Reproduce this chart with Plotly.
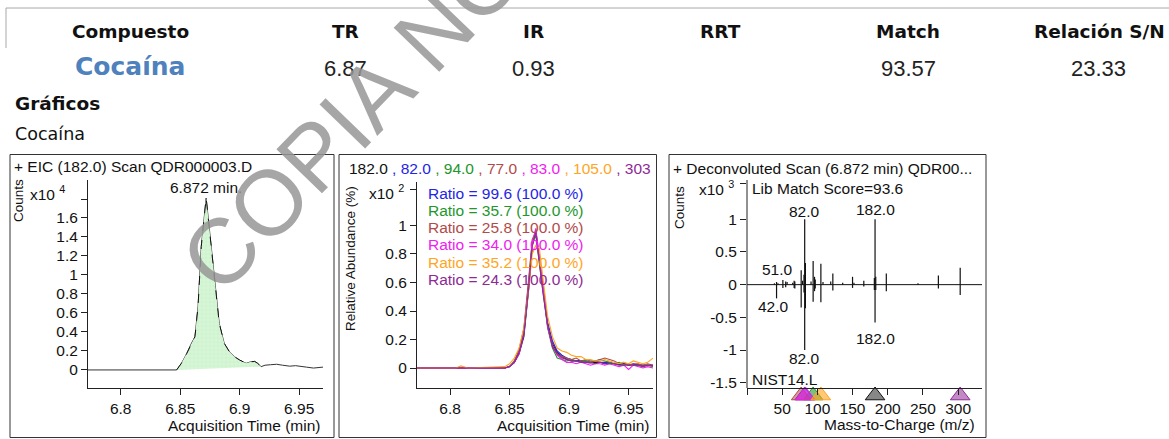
import plotly.graph_objects as go

W, H = 1169, 439
ARIAL = "Liberation Sans, Arial, sans-serif"
SANS = "DejaVu Sans, Verdana, sans-serif"

# ---------------- data ----------------
header_labels = ["Compuesto", "TR", "IR", "RRT", "Match", "Relación S/N"]
compound_name = "Cocaína"
header_values = ["6.87", "0.93", "", "93.57", "23.33"]  # TR, IR, RRT, Match, S/N
section_title = "Gráficos"
section_sub = "Cocaína"

# Panel 1 : EIC 182 (counts x10^4)
eic_title = "+ EIC (182.0) Scan QDR000003.D"
eic_peak_label = "6.872 min."
eic_time = [6.7725, 6.800, 6.830, 6.847, 6.851, 6.8554, 6.859, 6.8624, 6.865, 6.8677,
            6.8718, 6.876, 6.880, 6.8828, 6.887, 6.8914, 6.8955, 6.8998, 6.9054, 6.9090,
            6.9125, 6.9150, 6.918, 6.9213, 6.926, 6.931, 6.936, 6.942, 6.947, 6.951,
            6.956, 6.962, 6.966, 6.970]
eic_counts = [0, 0, 0, 0, 0.07, 0.17, 0.27, 0.35, 0.67, 1.30,
              1.81, 1.30, 0.84, 0.49, 0.28, 0.19, 0.14, 0.105, 0.07, 0.085,
              0.09, 0.07, 0.035, 0.05, 0.055, 0.06, 0.05, 0.04, 0.045, 0.035,
              0.03, 0.02, 0.025, 0.03]
eic_integration = [6.847, 6.918]
eic_xticks = [6.8, 6.85, 6.9, 6.95]
eic_yticks = [0, 0.2, 0.4, 0.6, 0.8, 1, 1.2, 1.4, 1.6, 1.8]
eic_yticklabels = ["0", "0.2", "0.4", "0.6", "0.8", "1", "1.2", "1.4", "1.6", ""]

# Panel 2 : qualifier ions (relative abundance x10^2 %)
qual_ions = ["182.0", "82.0", "94.0", "77.0", "83.0", "105.0", "303"]
qual_time = [6.7722, 6.805, 6.809, 6.812, 6.815, 6.846, 6.850, 6.854, 6.858, 6.862,
             6.866, 6.869, 6.872, 6.875, 6.878, 6.882, 6.886, 6.890, 6.894, 6.898,
             6.902, 6.906, 6.910, 6.914, 6.918, 6.922, 6.926, 6.930, 6.934, 6.938,
             6.942, 6.946, 6.950, 6.954, 6.958, 6.962, 6.966, 6.9705]
qual_182 = [0, 0, 0, 0, 0, 0, 0.01, 0.04, 0.10, 0.22, 0.55, 0.85, 0.97, 0.78, 0.56, 0.30, 0.17, 0.11, 0.08, 0.06,
            0.05, 0.05, 0.05, 0.04, 0.035, 0.04, 0.04, 0.03, 0.035, 0.03, 0.025, 0.03, 0.02, 0.025, 0.02, 0.02, 0.02, 0.015]
qual_82 = [0, 0, 0, 0, 0, 0, 0.01, 0.04, 0.11, 0.25, 0.58, 0.87, 0.95, 0.75, 0.55, 0.32, 0.19, 0.12, 0.09, 0.07,
           0.06, 0.05, 0.05, 0.05, 0.04, 0.05, 0.04, 0.04, 0.04, 0.03, 0.03, 0.03, 0.02, 0.03, 0.02, 0.02, 0.02, 0.02]
qual_94 = [0, 0, 0, 0, 0, 0, 0.01, 0.05, 0.12, 0.26, 0.60, 0.88, 0.93, 0.74, 0.52, 0.28, 0.14, 0.07, 0.06, 0.05,
           0.06, 0.05, 0.04, 0.05, 0.04, 0.05, 0.06, 0.05, 0.04, 0.03, 0.04, 0.02, 0.03, 0.02, 0.02, 0.01, 0.02, 0.01]
qual_77 = [0, 0, 0, 0, 0, 0, 0.01, 0.05, 0.13, 0.28, 0.62, 0.90, 0.96, 0.76, 0.52, 0.29, 0.16, 0.10, 0.08, 0.07,
           0.06, 0.07, 0.05, 0.06, 0.05, 0.05, 0.06, 0.07, 0.06, 0.05, 0.03, 0.04, 0.02, 0.03, 0.03, 0.02, 0.03, 0.02]
qual_83 = [0, 0, 0, 0, 0, 0, 0.01, 0.04, 0.10, 0.24, 0.57, 0.86, 0.98, 0.77, 0.55, 0.29, 0.15, 0.09, 0.06, 0.04,
           0.04, 0.03, 0.04, 0.03, 0.02, 0.03, 0.03, 0.02, 0.03, 0.02, 0.01, 0.02, -0.01, 0.02, 0.01, 0.0, 0.01, 0.0]
qual_105 = [0, 0, 0.015, 0.01, 0, 0.01, 0.03, 0.07, 0.14, 0.28, 0.55, 0.80, 0.86, 0.84, 0.62, 0.36, 0.22, 0.14, 0.12, 0.11,
            0.09, 0.08, 0.08, 0.06, 0.06, 0.05, 0.05, 0.06, 0.05, 0.04, 0.03, 0.04, 0.03, 0.05, 0.04, 0.03, 0.04, 0.07]
qual_303 = [0, 0, 0, 0, 0, 0, 0.01, 0.04, 0.11, 0.24, 0.56, 0.86, 0.95, 0.74, 0.53, 0.30, 0.15, 0.10, 0.07, 0.06,
            0.05, 0.05, 0.04, 0.04, 0.04, 0.03, 0.04, 0.03, 0.03, 0.03, 0.02, 0.02, 0.02, 0.02, 0.02, 0.01, 0.02, 0.02]
ratio_values = [99.6, 35.7, 25.8, 34.0, 35.2, 24.3]
ratio_expected = [100.0, 100.0, 100.0, 100.0, 100.0, 100.0]
qual_yticks = [0, 0.2, 0.4, 0.6, 0.8, 1, 1.25]
qual_yticklabels = ["0", "0.2", "0.4", "0.6", "0.8", "1", ""]

# Panel 3 : deconvoluted spectrum (counts x10^3) vs library (mirrored)
spec_title = "+ Deconvoluted Scan (6.872 min) QDR00..."
lib_score = "Lib Match Score=93.6"
lib_name = "NIST14.L"
spec_mz = [39, 42, 44, 51, 55, 57, 65, 67, 68, 77, 79, 81, 82, 83, 91, 94, 96, 97, 105, 108,
           119, 122, 136, 150, 152, 166, 181, 182, 183, 198, 243, 272, 303]
spec_int = [0.02, 0.04, 0.02, 0.07, 0.05, 0.04, 0.03, 0.06, 0.05, 0.22, 0.06, 0.15, 1.00, 0.33, 0.05, 0.36, 0.12, 0.08, 0.32, 0.04,
            0.05, 0.17, 0.03, 0.12, 0.03, 0.06, 0.10, 1.00, 0.12, 0.17, 0.02, 0.14, 0.26]
lib_mz = [42, 51, 55, 67, 68, 77, 81, 82, 83, 94, 96, 97, 105, 122, 150, 166, 181, 182, 183, 198, 272, 303]
lib_int = [-0.21, -0.05, -0.04, -0.05, -0.06, -0.35, -0.12, -1.00, -0.36, -0.26, -0.10, -0.06, -0.27, -0.09, -0.05,
           -0.03, -0.08, -0.58, -0.08, -0.10, -0.06, -0.16]
marker_mz = [182, 82, 94, 77, 83, 105, 303]
spec_xticks = [0, 50, 100, 150, 200, 250, 300]
spec_xticklabels = ["", "50", "100", "150", "200", "250", "300"]
spec_yticks = [-1.5, -1, -0.5, 0, 0.5, 1, 1.55]
spec_yticklabels = ["-1.5", "-1", "-0.5", "0", "0.5", "1", ""]

# ---------------- styles ----------------
ion_colors = ["#111111", "#2424e6", "#23962b", "#b24a4a", "#f020f0", "#ffa51f", "#8e2a95"]
marker_fill = ["rgba(70,70,70,0.65)", "rgba(36,36,230,0.5)", "rgba(35,150,43,0.6)", "rgba(178,74,74,0.55)",
               "rgba(240,32,240,0.6)", "rgba(255,165,31,0.6)", "rgba(142,42,149,0.55)"]


def px(x):
    return x / W


def py(y):
    return 1 - y / H


def A(x, y, text, size=15.5, color="#111", xanchor="center", yanchor="middle", family=ARIAL, angle=0):
    return dict(x=px(x), y=py(y), xref="paper", yref="paper", text=text, showarrow=False,
                xanchor=xanchor, yanchor=yanchor, textangle=angle,
                font=dict(family=family, size=size, color=color))


fig = go.Figure()

# ---- panel 1 ----
fill_idx = [i for i, t in enumerate(eic_time) if eic_integration[0] <= t <= eic_integration[1]]
fig.add_trace(go.Scatter(x=eic_time, y=eic_counts, mode="lines", line=dict(color="#333", width=1),
                         xaxis="x", yaxis="y", hoverinfo="skip", showlegend=False))
fig.add_trace(go.Scatter(x=[eic_time[i] for i in fill_idx], y=[eic_counts[i] for i in fill_idx],
                         mode="lines", fill="toself", fillcolor="rgba(200,240,200,1)",
                         fillpattern=dict(shape="+", fgcolor="rgba(150,215,150,0.8)",
                                          bgcolor="rgb(214,246,214)", size=4, solidity=0.15),
                         line=dict(color="#111", width=1, dash="dash"),
                         xaxis="x", yaxis="y", hoverinfo="skip", showlegend=False))

# ---- panel 2 ----
qual_series = [qual_182, qual_82, qual_94, qual_77, qual_83, qual_105, qual_303]
for vals, col in zip(qual_series, ion_colors):
    fig.add_trace(go.Scatter(x=qual_time, y=vals, mode="lines", line=dict(color=col, width=1.1),
                             xaxis="x2", yaxis="y2", hoverinfo="skip", showlegend=False))

# ---- panel 3 ----
def sticks(mz, inten):
    xs, ys = [], []
    for m, v in zip(mz, inten):
        xs += [m, m, None]
        ys += [0, v, None]
    return xs, ys


sx, sy = sticks(spec_mz, spec_int)
lx, ly = sticks(lib_mz, lib_int)
fig.add_trace(go.Scatter(x=[0, 334], y=[0, 0], mode="lines", line=dict(color="#111", width=1),
                         xaxis="x3", yaxis="y3", hoverinfo="skip", showlegend=False))
fig.add_trace(go.Scatter(x=sx, y=sy, mode="lines", line=dict(color="#111", width=1.2),
                         xaxis="x3", yaxis="y3", hoverinfo="skip", showlegend=False))
fig.add_trace(go.Scatter(x=lx, y=ly, mode="lines", line=dict(color="#111", width=1.2),
                         xaxis="x3", yaxis="y3", hoverinfo="skip", showlegend=False))
fig.add_trace(go.Scatter(x=marker_mz, y=[-1.695] * len(marker_mz), mode="markers", cliponaxis=False,
                         marker=dict(symbol="triangle-up", size=17, color=marker_fill,
                                     line=dict(color=ion_colors, width=1)),
                         xaxis="x3", yaxis="y3", hoverinfo="skip", showlegend=False))

axis_common = dict(showline=True, linecolor="#222", linewidth=1, ticks="outside", ticklen=6,
                   tickcolor="#222", tickwidth=1, showgrid=False, zeroline=False, fixedrange=True,
                   tickfont=dict(family=ARIAL, size=15.5, color="#111"))
y3_axis = dict(axis_common)
y3_axis["showline"] = False

fig.update_layout(
    width=W, height=H, margin=dict(l=0, r=0, t=0, b=0),
    paper_bgcolor="white", plot_bgcolor="rgba(0,0,0,0)", showlegend=False,
    xaxis=dict(domain=[px(88), px(323)], range=[6.7725, 6.970], anchor="y",
               tickvals=eic_xticks, ticktext=[str(v) for v in eic_xticks], **axis_common),
    yaxis=dict(domain=[py(388), py(180)], range=[-0.19, 2.0], anchor="x",
               tickvals=eic_yticks, ticktext=eic_yticklabels, **axis_common),
    xaxis2=dict(domain=[px(417), px(653)], range=[6.7722, 6.9705], anchor="y2",
                tickvals=eic_xticks, ticktext=[str(v) for v in eic_xticks], **axis_common),
    yaxis2=dict(domain=[py(388), py(182)], range=[-0.14, 1.305], anchor="x2",
                tickvals=qual_yticks, ticktext=qual_yticklabels, **axis_common),
    xaxis3=dict(domain=[px(747), px(982)], range=[0, 334], anchor="free", position=py(388),
                tickvals=spec_xticks, ticktext=spec_xticklabels, **axis_common),
    yaxis3=dict(domain=[py(405), py(180)], range=[-1.84, 1.6], anchor="x3",
                tickvals=spec_yticks, ticktext=spec_yticklabels, **y3_axis),
)

# ---- shapes: page lines and panel boxes ----
shapes = [
    dict(type="line", xref="paper", yref="paper", x0=px(6), x1=1, y0=py(8), y1=py(8),
         line=dict(color="#a8a8a8", width=1)),
    dict(type="line", xref="paper", yref="paper", x0=px(6), x1=px(6), y0=py(8), y1=py(48),
         line=dict(color="#a8a8a8", width=1)),
    dict(type="line", xref="paper", yref="paper", x0=px(747), x1=px(747), y0=py(388), y1=py(180),
         line=dict(color="#222", width=1)),
]
for x0, x1 in [(10, 334), (339, 656.5), (669, 986)]:
    shapes.append(dict(type="rect", xref="paper", yref="paper", x0=px(x0), x1=px(x1),
                       y0=py(437.5), y1=py(154.5), line=dict(color="#333", width=1)))
fig.update_layout(shapes=shapes)

# ---- annotations ----
ann = []
header_x = [130, 345, 533, 720, 908, 1032]
for i, (lab, hx) in enumerate(zip(header_labels, header_x)):
    ann.append(A(hx, 31, "<b>%s</b>" % lab, size=18.5, family=SANS, color="#111",
                 xanchor="left" if i == len(header_labels) - 1 else "center"))
ann.append(A(130, 67, "<b>%s</b>" % compound_name, size=25, family=SANS, color="#4f81bd"))
for v, hx in zip(header_values, [345, 533, 720, 908, 1098]):
    if v:
        ann.append(A(hx, 68, v, size=22, color="#222"))
ann.append(A(13, 103, "<b>%s</b>" % section_title, size=18.5, family=SANS, color="#111", xanchor="left"))
ann.append(A(13, 134, section_sub, size=17.5, family=SANS, color="#111", xanchor="left"))

# panel 1 texts
ann.append(A(12, 167, eic_title, xanchor="left"))
ann.append(A(18, 201, "Counts", size=13.5, angle=-90))
ann.append(A(28, 193, "x10 <sup>4</sup>", xanchor="left"))
peak_i = eic_counts.index(max(eic_counts))
ann.append(dict(x=eic_time[peak_i], y=eic_counts[peak_i], xref="x", yref="y", text=eic_peak_label,
                showarrow=False, xanchor="center", yanchor="bottom", yshift=0,
                font=dict(family=ARIAL, size=15.5, color="#111")))
ann.append(A(322, 425, "Acquisition Time (min)", xanchor="right"))

# panel 2 texts
title2 = ""
for i, (lab, col) in enumerate(zip(qual_ions, ion_colors)):
    sep = "" if i == 0 else " , "
    title2 += "<span style='color:%s'>%s%s</span>" % (col, sep, lab)
ann.append(A(347, 168, title2, xanchor="left"))
ann.append(A(350, 258, "Relative Abundance (%)", size=13.5, angle=-90))
ann.append(A(367, 192, "x10 <sup>2</sup>", xanchor="left"))
for k, (rv, re) in enumerate(zip(ratio_values, ratio_expected)):
    ann.append(A(426, 193 + k * 17.3, "Ratio = %.1f (%.1f %%)" % (rv, re), color=ion_colors[k + 1],
                 xanchor="left"))
ann.append(A(651, 425, "Acquisition Time (min)", xanchor="right"))

# panel 3 texts
ann.append(A(671, 168, spec_title, xanchor="left"))
ann.append(A(679, 208, "Counts", size=13.5, angle=-90))
ann.append(A(697, 188, "x10 <sup>3</sup>", xanchor="left"))
ann.append(A(750, 188, lib_score, xanchor="left"))
ann.append(A(750, 379, lib_name, xanchor="left"))
ann.append(A(804, 212, "82.0"))
ann.append(A(875, 209, "182.0"))
ann.append(A(777, 269, "51.0"))
ann.append(A(773, 306, "42.0"))
ann.append(A(875, 338, "182.0"))
ann.append(A(804, 358, "82.0"))
ann.append(A(977, 424, "Mass-to-Charge (m/z)", xanchor="right"))

# watermark
ann.append(A(352, 116, "COPIA NO", size=92, color="rgba(150,150,150,0.85)", angle=-46))

fig.update_layout(annotations=ann)
fig.write_html("out.html", config={"displayModeBar": False},
               post_script="document.body.style.margin='0';document.body.style.overflow='hidden';")
